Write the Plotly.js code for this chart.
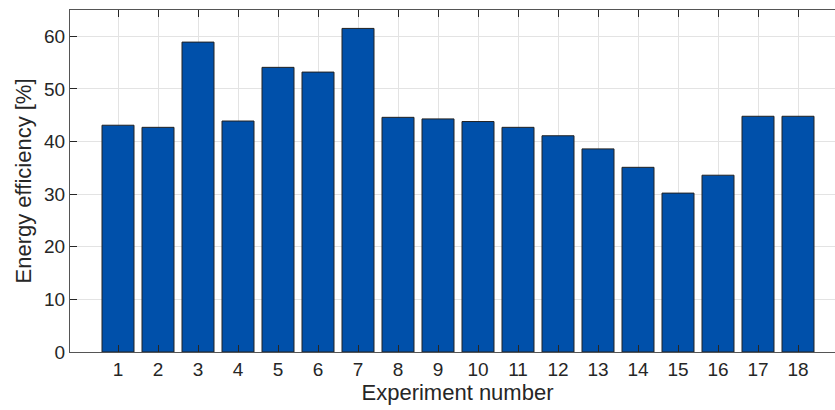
<!DOCTYPE html>
<html>
<head>
<meta charset="utf-8">
<script src="https://cdn.plot.ly/plotly-3.0.1.min.js"></script>
<style>
html,body{margin:0;padding:0;overflow:hidden;background:#fff;}
#chart{width:845px;height:410px;}
</style>
</head>
<body>
<div id="chart"></div>
<script>
const experiments = [1,2,3,4,5,6,7,8,9,10,11,12,13,14,15,16,17,18];
const efficiency = [43.1,42.7,58.9,43.9,54.1,53.2,61.5,44.6,44.3,43.8,42.7,41.1,38.6,35.1,30.2,33.6,44.8,44.8];
const xTickLabels = experiments.map(String);
const yTicks = [0,10,20,30,40,50,60];

const textColor = '#262626';
const trace = {
  type: 'bar',
  x: experiments,
  y: efficiency,
  width: 0.8,
  marker: {color: '#0050AA', line: {color: '#222222', width: 1}},
  hoverinfo: 'x+y'
};
const layout = {
  width: 845, height: 410,
  margin: {l: 70, r: 0, t: 10, b: 58},
  paper_bgcolor: '#fff', plot_bgcolor: '#fff',
  showlegend: false,
  font: {family: 'Liberation Sans, Arial, sans-serif', color: textColor, size: 19},
  xaxis: {
    range: [-0.2, 19.175],
    tickvals: experiments, ticktext: xTickLabels,
    ticks: 'inside', ticklen: 7, tickcolor: '#262626', tickwidth: 1,
    showgrid: true, gridcolor: '#e3e3e3', gridwidth: 1,
    showline: true, linecolor: '#555555', linewidth: 1, mirror: 'ticks',
    zeroline: false,
    tickfont: {size: 19, color: textColor},
    title: {text: 'Experiment number', font: {size: 22, color: textColor}, standoff: 4}
  },
  yaxis: {
    range: [0, 65],
    tickvals: yTicks,
    ticks: 'inside', ticklen: 7, tickcolor: '#262626', tickwidth: 1,
    showgrid: true, gridcolor: '#e3e3e3', gridwidth: 1,
    showline: true, linecolor: '#555555', linewidth: 1, mirror: 'ticks',
    zeroline: false,
    tickfont: {size: 19, color: textColor},
    title: {text: 'Energy efficiency [%]', font: {size: 22, color: textColor}, standoff: 6}
  }
};
Plotly.newPlot('chart', [trace], layout, {displayModeBar: false, staticPlot: true});
</script>
</body>
</html>
